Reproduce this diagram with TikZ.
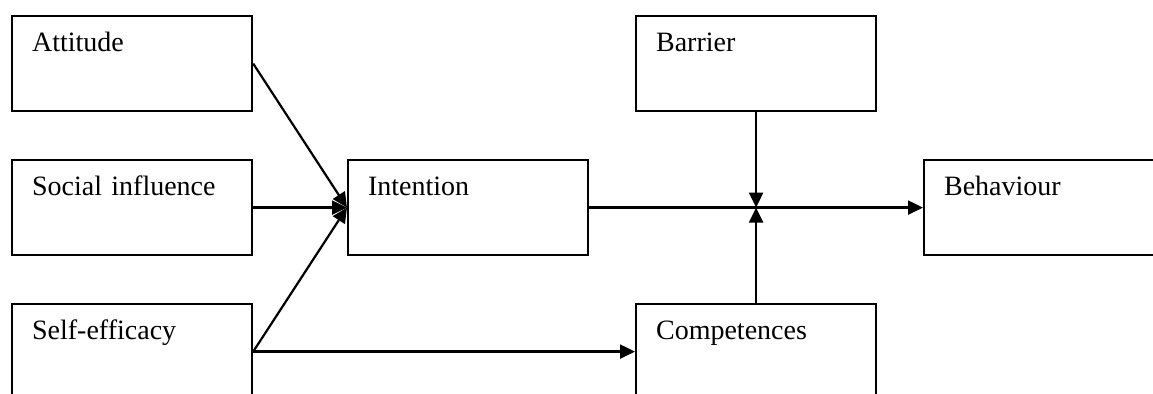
\documentclass[tikz,border=0pt]{standalone}
\usepackage{fontspec}
\setmainfont{Liberation Serif}
\usetikzlibrary{arrows.meta}

\begin{document}
\begin{tikzpicture}[x=0.5pt,y=-0.5pt,line width=1.1pt,
                box/.style={draw,anchor=north west,align=left,text width=100pt,inner xsep=10pt,inner ysep=0pt,
                    text height=17.5pt,text depth=30pt,font=\fontsize{14}{16}\selectfont},
                arr/.style={-{Triangle[length=7.5pt,width=7pt]}}]
                \useasboundingbox (0,0) rectangle (1153,394);
                \clip (0,0) rectangle (1153,394);
                \node[box] (att) at (11,15) {Attitude};
                \node[box] (soc) at (11,159) {Social influence};
                \node[box] (self) at (11,303) {Self-efficacy};
                \node[box] (int) at (347,159) {Intention};
                \node[box] (bar) at (635,15) {Barrier};
                \node[box] (comp) at (635,303) {Competences};
                \node[box] (beh) at (923,159) {Behaviour};
                \coordinate (mid) at (comp.north |- int.east);
                \draw[arr] (att.east)--(int.west);
                \draw[arr] (soc.east)--(int.west);
                \draw[arr] (self.east)--(int.west);
                \draw[arr] (self.east)--(comp.west);
                \draw[arr] (int.east)--(beh.west);
                \draw[arr] (bar.south)--(mid);
                \draw[arr] (comp.north)--(mid);
            \end{tikzpicture}
\end{document}
